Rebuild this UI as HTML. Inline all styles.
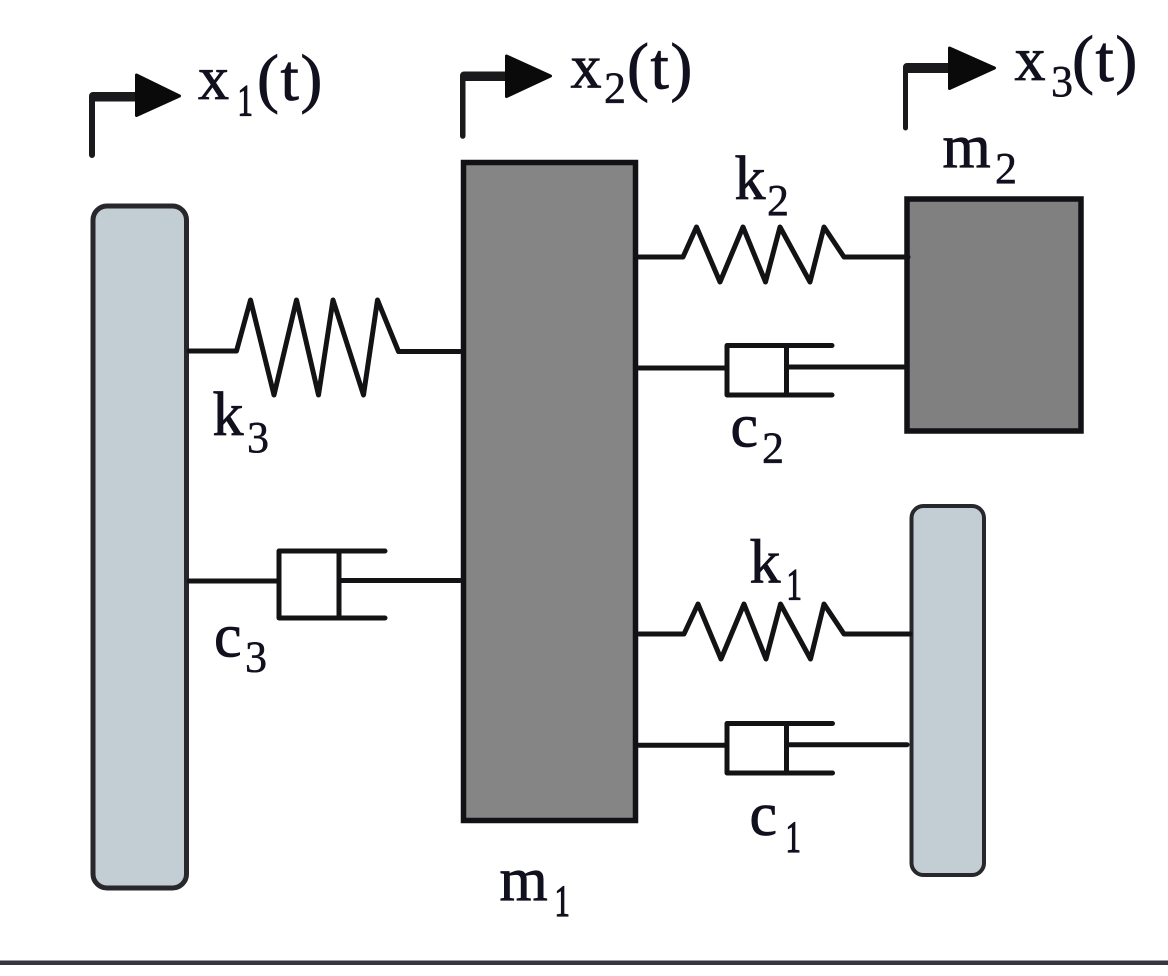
<!DOCTYPE html>
<html>
<head>
<meta charset="utf-8">
<style>
html,body{margin:0;padding:0;background:#fff;width:1168px;height:976px;overflow:hidden}
svg{display:block}
text{font-family:"Liberation Serif",serif;fill:#10101e;stroke:#10101e;stroke-width:.8px}
.l{font-size:62px}
.p{font-size:66px;letter-spacing:1.500px}
.s{font-size:44px;stroke-width:.5px}
.o{font-size:44px;stroke-width:1.200px}
</style>
</head>
<body>
<svg width="1168" height="976" viewBox="0 0 1168 976" xmlns="http://www.w3.org/2000/svg">
<rect width="1168" height="976" fill="#fff"/>
<!-- walls -->
<rect x="93" y="206" width="93.500" height="682" rx="14" fill="#c3cdd4" stroke="#28282c" stroke-width="5"/>
<rect x="911.500" y="506" width="72.500" height="369" rx="12" fill="#c3cdd4" stroke="#28282c" stroke-width="4"/>
<!-- masses -->
<rect x="463.500" y="162.500" width="172" height="658" fill="#858585" stroke="#111116" stroke-width="5.500"/>
<rect x="907" y="199" width="174" height="232" fill="#808080" stroke="#111116" stroke-width="5.500"/>
<g fill="none" stroke="#131315" stroke-width="5" stroke-linejoin="round" stroke-linecap="round">
<!-- k3 -->
<polyline points="189,351 236.500,351 250.500,300 274,395 296.500,300 318.500,395 333,300 363.500,395 377.500,300 398.500,351.500 460,351.500"/>
<!-- c3 -->
<path d="M189,581H279M460,580.500H339"/>
<rect x="279" y="551" width="60" height="67" fill="#fff"/>
<path d="M339,551H385M339,618H385"/>
<!-- k2 -->
<polyline points="639,257 683,257 696.500,227 720,282 743,227 765.500,282 780,227 810,282 824,227 844,257 908,257"/>
<!-- c2 -->
<path d="M639,368H727M906,367H787"/>
<rect x="727" y="345.500" width="59.500" height="49.500" fill="#fff"/>
<path d="M786.500,345.500H832M786.500,395H832"/>
<!-- k1 -->
<polyline points="639,634 684,634 698,604 721,659 744,604 766,659 780.500,604 810.500,659 824,604 844,634 910,634"/>
<!-- c1 -->
<path d="M639,745.300H727M907,744.700H787"/>
<rect x="727" y="723.500" width="59.500" height="49.500" fill="#fff"/>
<path d="M786.500,723.500H832.500M786.500,773H832.500"/>
</g>
<!-- arrows -->
<path d="M89,101.500V155a3,3 0 0 0 6,0V101.500Z M89,96a4,4 0 0 1 4,-4H140V101.500H89Z" fill="#1a1a1c"/>
<path d="M460,81V136a2.700,2.700 0 0 0 5.500,0V81Z M460,75.500a4,4 0 0 1 4,-4H510V81H460Z" fill="#1a1a1c"/>
<path d="M903,73V128a2.500,2.500 0 0 0 5,0V73Z M903,67a4,4 0 0 1 4,-4H953V73H903Z" fill="#1a1a1c"/>
<g fill="#0a0a0a" stroke="#0a0a0a" stroke-width="3" stroke-linejoin="round">
<polygon points="136.500,75 179.500,96 136.500,115.500"/>
<polygon points="506.500,56 550.500,76 506.500,96.500"/>
<polygon points="949.500,48 994.500,68 949.500,88.500"/>
</g>
<!-- labels -->
<text class="l" x="198" y="99">x</text><text class="o" transform="translate(237.500,115) scale(.7,1)">1</text><text class="p" x="257" y="100">(t)</text>
<text class="l" x="570.500" y="87.300">x</text><text class="s" x="604" y="102.700">2</text><text class="p" x="627" y="88.300">(t)</text>
<text class="l" x="1014.500" y="80">x</text><text class="s" x="1051" y="96">3</text><text class="p" x="1072" y="81">(t)</text>
<text class="l" x="942.500" y="167">m</text><text class="s" x="995" y="183">2</text>
<text class="l" x="734.500" y="199">k</text><text class="s" x="767" y="215">2</text>
<text class="l" x="212.500" y="435">k</text><text class="s" x="247" y="452">3</text>
<text class="l" x="730.500" y="446.700">c</text><text class="s" x="762" y="462.700">2</text>
<text class="l" x="749.500" y="582.700">k</text><text class="o" transform="translate(786.500,599) scale(.7,1)">1</text>
<text class="l" x="214" y="656.700">c</text><text class="s" x="245" y="671.700">3</text>
<text class="l" x="749.500" y="835">c</text><text class="o" transform="translate(785.500,851.700) scale(.7,1)">1</text>
<text class="l" x="499.500" y="900">m</text><text class="o" transform="translate(554.500,915.700) scale(.7,1)">1</text>
<!-- bottom rule -->
<rect x="0" y="960.500" width="1168" height="4.500" fill="#36363e"/>
</svg>
</body>
</html>
